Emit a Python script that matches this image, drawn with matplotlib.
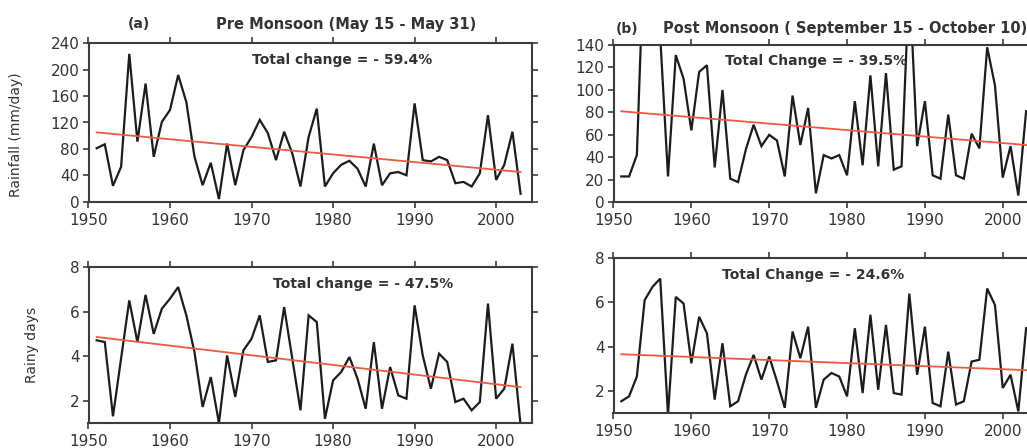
import numpy as np
import matplotlib
matplotlib.use("Agg")
import matplotlib.pyplot as plt

plt.rcParams['font.family'] = ['DejaVu Sans']

years = np.arange(1951, 2004)

pre_rain = [81, 87, 24, 53, 224, 91, 179, 68, 121, 139,
            192, 151, 68, 25, 59, 4, 88, 25, 78, 98,
            124, 104, 63, 106, 73, 23, 98, 141, 23, 43,
            56, 62, 50, 23, 88, 25, 43, 45, 40, 149,
            63, 61, 68, 63, 28, 30, 23, 43, 131, 33,
            56, 106, 12]
post_rain = [23, 23, 42, 240, 250, 148, 23, 131, 110, 64,
             116, 122, 31, 100, 21, 18, 47, 69, 50, 60,
             55, 23, 95, 51, 84, 8, 42, 39, 42, 24,
             90, 33, 113, 32, 115, 29, 32, 200, 50, 90,
             24, 21, 78, 24, 21, 61, 48, 138, 104, 22,
             50, 6, 81]
pre_days = [4.71, 4.63, 1.3, 3.9, 6.5, 4.63, 6.75, 5.0, 6.13, 6.58,
            7.1, 5.83, 4.18, 1.72, 3.06, 1.0, 4.03, 2.17, 4.26, 4.78,
            5.83, 3.74, 3.81, 6.2, 3.88, 1.57, 5.83, 5.53, 1.19, 2.91,
            3.29, 3.96, 2.99, 1.64, 4.63, 1.64, 3.51, 2.24, 2.09, 6.28,
            4.03, 2.54, 4.11, 3.74, 1.94, 2.09, 1.57, 1.94, 6.36, 2.09,
            2.54, 4.56, 0.9]
post_days = [1.52, 1.74, 2.64, 6.1, 6.7, 7.08, 0.9, 6.25, 5.95, 3.24,
             5.35, 4.6, 1.59, 4.15, 1.29, 1.52, 2.72, 3.62, 2.5, 3.55,
             2.42, 1.22, 4.68, 3.47, 4.9, 1.22, 2.5, 2.8, 2.64, 1.74,
             4.83, 1.89, 5.44, 2.04, 4.98, 1.89, 1.82, 6.4, 2.72, 4.9,
             1.44, 1.29, 3.77, 1.37, 1.52, 3.32, 3.4, 6.63, 5.88, 2.12,
             2.72, 1.06, 4.83]

trend_years = [1951, 2003]
pre_rain_trend = [105, 45]
post_rain_trend = [81, 51]
pre_days_trend = [4.86, 2.61]
post_days_trend = [3.65, 2.93]

x_ticks = [1950, 1960, 1970, 1980, 1990, 2000]
pre_rain_ticks = [0, 40, 80, 120, 160, 200, 240]
post_rain_ticks = [0, 20, 40, 60, 80, 100, 120, 140]
days_ticks = [2, 4, 6, 8]

texts = ["Total change = - 59.4%", "Total Change = - 39.5%",
         "Total change = - 47.5%", "Total Change = - 24.6%"]

W, H = 1027, 448
fig = plt.figure(figsize=(W / 100, H / 100), dpi=100)

def px_axes(l, t, r, b):
    return fig.add_axes([l / W, 1 - b / H, (r - l) / W, (b - t) / H])

LINE = '#1c1c1c'
RED = '#ec5a40'
SPINE = '#3c3c3c'
TXT = '#333333'

def style(ax, yticks, ylim):
    ax.set_xlim(1950, 2004.4)
    ax.set_ylim(*ylim)
    ax.set_xticks(x_ticks)
    ax.set_yticks(yticks)
    ax.tick_params(direction='out', top=True, right=True, labeltop=False,
                   labelright=False, length=4, width=1.2, color=SPINE,
                   labelsize=11, labelcolor=TXT)
    ax.tick_params(axis='x', pad=4)
    ax.tick_params(axis='y', pad=2.5)
    for s in ax.spines.values():
        s.set_linewidth(1.5)
        s.set_color(SPINE)

panels = [
    ((88.5, 43.3, 532, 201.7), pre_rain, pre_rain_trend, pre_rain_ticks, (0, 240)),
    ((613.5, 45, 613.5 + 54.4 * 7.785, 202.3), post_rain, post_rain_trend, post_rain_ticks, (0, 140)),
    ((88.5, 267, 532, 423), pre_days, pre_days_trend, days_ticks, (1, 8)),
    ((613.5, 258.3, 613.5 + 54.4 * 7.785, 412.7), post_days, post_days_trend, days_ticks, (1, 8)),
]

axes = []
for box, vals, tr, yt, yl in panels:
    ax = px_axes(*box)
    ax.plot(years, vals, color=LINE, lw=1.6, solid_joinstyle='miter')
    ax.plot(trend_years, tr, color=RED, lw=1.3)
    style(ax, yt, yl)
    axes.append(ax)

def ftext(x, y, s, **kw):
    fig.text(x / W, 1 - y / H, s, **kw)

ftext(139, 24, "(a)", ha='center', va='center', fontsize=10, fontweight='bold', color=TXT)
ftext(346, 24, "Pre Monsoon (May 15 - May 31)", ha='center', va='center',
      fontsize=10.5, fontweight='bold', color=TXT)
ftext(627, 29, "(b)", ha='center', va='center', fontsize=10, fontweight='bold', color=TXT)
ftext(663, 29, "Post Monsoon ( September 15 - October 10)", ha='left', va='center',
      fontsize=10.5, fontweight='bold', color=TXT)

ftext(342, 60, texts[0], ha='center', va='center', fontsize=10, fontweight='bold', color=TXT)
ftext(816, 61, texts[1], ha='center', va='center', fontsize=10, fontweight='bold', color=TXT)
ftext(363, 284, texts[2], ha='center', va='center', fontsize=10, fontweight='bold', color=TXT)
ftext(813, 275, texts[3], ha='center', va='center', fontsize=10, fontweight='bold', color=TXT)

ftext(16, 135, "Rainfall (mm/day)", ha='center', va='center', rotation=90,
      fontsize=10, color=TXT)
ftext(32, 345, "Rainy days", ha='center', va='center', rotation=90,
      fontsize=10, color=TXT)

fig.savefig("out.png", dpi=100)
